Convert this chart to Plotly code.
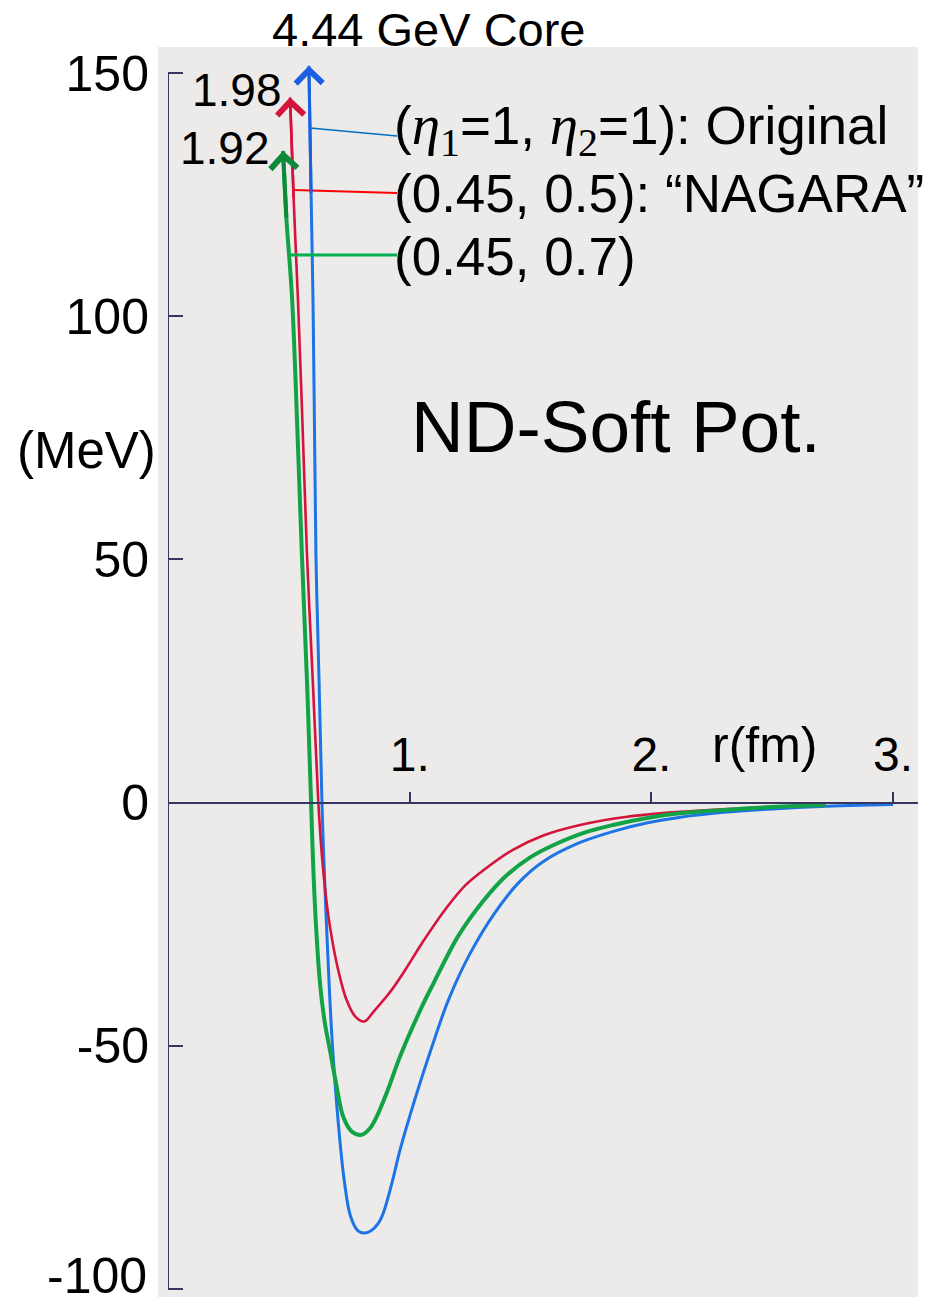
import numpy as np
import plotly.graph_objects as go

# ---------------- data: r (fm), V (MeV) ----------------
r_original = [0.583, 0.592, 0.600, 0.606, 0.612, 0.625, 0.637, 0.645, 0.660, 0.678,
              0.703, 0.730, 0.755, 0.785, 0.811, 0.840, 0.870, 0.890, 0.925, 0.960,
              1.000, 1.043, 1.100, 1.160, 1.250, 1.350, 1.450, 1.550, 1.700, 1.850,
              1.980, 2.120, 2.300, 2.500, 2.700, 3.000]
v_original = [151.5, 125.0, 103.0, 77.0, 51.0, 25.0, 0.0, -12.0, -30.0, -48.0,
              -65.0, -78.0, -85.0, -88.0, -88.5, -88.0, -86.5, -84.5, -78.5, -71.4,
              -64.5, -57.6, -49.0, -40.6, -31.0, -22.8, -16.5, -12.2, -8.3, -5.8,
              -4.2, -3.0, -2.0, -1.3, -0.8, -0.4]

r_nagara = [0.505, 0.520, 0.538, 0.557, 0.575, 0.600, 0.622, 0.637, 0.655, 0.670,
            0.700, 0.739, 0.775, 0.812, 0.850, 0.918, 0.980, 1.056, 1.154, 1.230,
            1.305, 1.427, 1.550, 1.705, 1.900, 2.118, 2.400, 2.720]
v_nagara = [145.0, 124.0, 103.0, 77.0, 51.0, 24.0, 0.0, -11.0, -20.0, -25.5,
            -33.5, -40.6, -44.0, -45.0, -43.0, -39.0, -34.5, -28.5, -21.5, -17.0,
            -13.9, -9.7, -6.8, -4.6, -2.9, -1.9, -1.1, -0.5]

r_eta07 = [0.476, 0.490, 0.513, 0.535, 0.554, 0.575, 0.592, 0.600, 0.612, 0.629,
           0.648, 0.670, 0.695, 0.725, 0.760, 0.801, 0.835, 0.863, 0.910, 0.960,
           1.050, 1.100, 1.200, 1.300, 1.400, 1.500, 1.600, 1.720, 1.841, 2.000,
           2.118, 2.300, 2.500, 2.720]
v_eta07 = [134.0, 120.0, 104.0, 77.0, 51.0, 25.0, 0.0, -12.0, -25.0, -37.2,
           -45.0, -50.9, -57.6, -64.6, -67.6, -68.3, -67.0, -64.6, -59.0, -52.2,
           -42.0, -37.0, -27.5, -20.5, -15.0, -11.2, -8.6, -6.2, -4.6, -3.0,
           -2.2, -1.5, -0.9, -0.5]

series_names = ["(η1=1, η2=1): Original", "(0.45, 0.5): “NAGARA”", "(0.45, 0.7)"]
ETA = '<span style="font-family:Liberation Serif;font-size:57px"><i>η</i><sub>{}</sub></span>'
series_labels = [
    "(" + ETA.format(1) + "=1, " + ETA.format(2) + "=1): Original",
    "(0.45, 0.5): “NAGARA”",
    "(0.45, 0.7)",
]
peak_labels = ["4.44 GeV Core", "1.98", "1.92"]

y_tickvals = [150, 100, 50, 0, -50, -100]
y_ticktext = ["150", "100", "50", "0", "-50", ""]   # bottom label drawn separately
y_bottom_label = "-100"
x_tickvals = [1, 2, 3]
x_ticktext = ["1.", "2.", "3."]

# ---------------- geometry / style ----------------
W, H = 932, 1306
L, R, T, B = 168, 918, 47, 1297
X_RANGE = [0.0, 3.103]
Y_RANGE = [-101.64, 155.35]
FONT = "Liberation Sans, Arial, sans-serif"
AXIS_COLOR = "#363660"
BG = "#edeaea"

curve_colors = ["#1c74e6", "#d4143c", "#12a346"]
curve_widths = [3.0, 2.6, 4.0]
head_colors = ["#1c5fe0", "#d4143c", "#0c8a38"]
leader_colors = ["#0070c0", "#ff0000", "#00b050"]
leader_widths = [1.6, 2.0, 3.0]


def px_x(p):
    return (p - L) / (R - L)


def px_y(p):
    return (B - p) / (B - T)


def v_of_px(p):
    return Y_RANGE[1] - (p - T) / (B - T) * (Y_RANGE[1] - Y_RANGE[0])


def r_of_px(p):
    return X_RANGE[0] + (p - L) / (R - L) * (X_RANGE[1] - X_RANGE[0])


curves = [(r_original, v_original), (r_nagara, v_nagara), (r_eta07, v_eta07)]

fig = go.Figure()
for (rs, vs), name, col, w in zip(curves, series_names, curve_colors, curve_widths):
    fig.add_trace(go.Scatter(x=rs, y=vs, mode="lines", name=name,
                             line=dict(color=col, width=w, shape="spline", smoothing=1.0),
                             showlegend=False, hoverinfo="skip"))

annotations = []
shapes = []

# grey paper background (slightly wider than the plot area on the left)
shapes.append(dict(type="rect", xref="paper", yref="paper", layer="below",
                   x0=px_x(158), x1=1, y0=0, y1=1, fillcolor=BG, line=dict(width=0)))
# vertical axis line from -100 to 150
shapes.append(dict(type="line", xref="x", yref="y", x0=0, x1=0, y0=-100, y1=150,
                   line=dict(color=AXIS_COLOR, width=2)))

# arrow heads at the top of each curve
for (rs, vs), col, w in zip(curves, head_colors, curve_widths):
    annotations.append(dict(x=rs[0], y=vs[0], ax=rs[1], ay=vs[1], xref="x", yref="y",
                            axref="x", ayref="y", text="", showarrow=True,
                            arrowhead=4, arrowsize=2.0 * 2.6 / w, arrowwidth=w,
                            arrowcolor=col, standoff=0))

# leader lines from curves to labels, labels
label_py = [129, 193, 256]
leader_start_py = [128, 190, 255]
leader_end_py = [136, 193, 255]
x_label_end = r_of_px(397)
for (rs, vs), lab, lc, lw, ly, ls, le in zip(curves, series_labels, leader_colors,
                                             leader_widths, label_py, leader_start_py,
                                             leader_end_py):
    imin = int(np.argmin(vs))
    left_v = np.array(vs[:imin + 1])[::-1]
    left_r = np.array(rs[:imin + 1])[::-1]
    v0 = v_of_px(ls)
    r0 = float(np.interp(v0, left_v, left_r))
    shapes.append(dict(type="line", xref="x", yref="y", x0=r0, y0=v0,
                       x1=x_label_end, y1=v_of_px(le), line=dict(color=lc, width=lw)))
    annotations.append(dict(x=px_x(392), y=px_y(ly), xref="paper", yref="paper",
                            text=lab, showarrow=False, xanchor="left", yanchor="middle",
                            font=dict(family=FONT, size=53, color="black")))

# peak labels
annotations.append(dict(x=px_x(429), y=px_y(29), xref="paper", yref="paper",
                        text=peak_labels[0], showarrow=False, xanchor="center",
                        yanchor="middle", font=dict(family=FONT, size=47, color="black")))
annotations.append(dict(x=px_x(237), y=px_y(90), xref="paper", yref="paper",
                        text=peak_labels[1], showarrow=False, xanchor="center",
                        yanchor="middle", font=dict(family=FONT, size=46, color="black")))
annotations.append(dict(x=px_x(225), y=px_y(148), xref="paper", yref="paper",
                        text=peak_labels[2], showarrow=False, xanchor="center",
                        yanchor="middle", font=dict(family=FONT, size=46, color="black")))

# title-like text and axis titles
annotations.append(dict(x=px_x(616), y=px_y(426), xref="paper", yref="paper",
                        text="ND-Soft Pot.", showarrow=False, xanchor="center",
                        yanchor="middle", font=dict(family=FONT, size=73, color="black")))
annotations.append(dict(x=px_x(86), y=px_y(450), xref="paper", yref="paper",
                        text="(MeV)", showarrow=False, xanchor="center",
                        yanchor="middle", font=dict(family=FONT, size=51, color="black")))
annotations.append(dict(x=px_x(765), y=px_y(745), xref="paper", yref="paper",
                        text="r(fm)", showarrow=False, xanchor="center",
                        yanchor="middle", font=dict(family=FONT, size=50, color="black")))
# bottom y tick label, kept inside the page
annotations.append(dict(x=px_x(149), y=px_y(H), xref="paper", yref="paper",
                        text=y_bottom_label, showarrow=False, xanchor="right",
                        yanchor="bottom", font=dict(family=FONT, size=50, color="black")))

zero_pos = (0 - Y_RANGE[0]) / (Y_RANGE[1] - Y_RANGE[0])

fig.update_layout(
    width=W, height=H,
    margin=dict(l=L, r=W - R, t=T, b=H - B, pad=0, autoexpand=False),
    paper_bgcolor="white",
    plot_bgcolor="rgba(0,0,0,0)",
    showlegend=False,
    font=dict(family=FONT, color="black"),
    xaxis=dict(range=X_RANGE, anchor="free", position=zero_pos, side="top",
               automargin=False,
               showgrid=False, zeroline=False, showline=True, linecolor=AXIS_COLOR,
               linewidth=2, ticks="outside", ticklen=10, tickwidth=2,
               tickcolor=AXIS_COLOR, tickvals=x_tickvals, ticktext=x_ticktext,
               tickfont=dict(family=FONT, size=48, color="black"),
               ticklabelstandoff=1),
    yaxis=dict(range=Y_RANGE, automargin=False, showgrid=False, zeroline=False,
               showline=False,
               ticks="inside", ticklen=15, tickwidth=2, tickcolor=AXIS_COLOR,
               tickvals=y_tickvals, ticktext=y_ticktext,
               tickfont=dict(family=FONT, size=50, color="black"),
               ticklabelstandoff=18, ticklabeloverflow="allow"),
    shapes=shapes,
    annotations=annotations,
)

fig.write_html("out.html")
